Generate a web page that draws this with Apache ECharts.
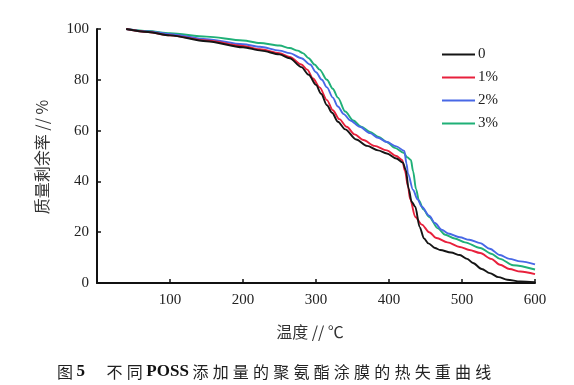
<!DOCTYPE html>
<html><head><meta charset="utf-8">
<script src="https://cdn.jsdelivr.net/npm/echarts@6/dist/echarts.min.js"></script>
<style>html,body{margin:0;padding:0;background:#fff}#c{width:574px;height:385px}</style>
</head><body><div id="c"></div>
<script>
const seriesNames = ['0', '1%', '2%', '3%'];
const xTicks = [0, 100, 200, 300, 400, 500, 600];
const yTicks = [0, 20, 40, 60, 80, 100];
const s0 = [[40,100],[70,98.8],[100,97.5],[150,95.2],[200,92.8],[225,91.5],[250,90],[264,88.5],[280,85],[290,82],[300,78],[307,74.5],[315,70],[322,67],[330,63.5],[340,60.5],[355,56.5],[370,54],[385,52.2],[397,51],[410,49],[419,47.4],[423,44.5],[427,37],[431,32],[436,30],[442,22],[448,17.5],[454,15.6],[463,13.8],[470,13],[485,12],[497,11],[507,9.5],[515,7.9],[527,5.5],[538,3.9],[550,2.3],[562,1.3],[580,0.6],[600,0.3]];
const s1 = [[40,100],[70,98.8],[100,97.5],[150,95.5],[200,93.3],[223,92],[250,90.5],[264,89],[280,86],[288,84],[296,80.5],[305,77],[315,72],[323,68],[332,64.5],[342,61.5],[353,58.5],[365,56.3],[380,54],[397,52.2],[410,50],[418,48.4],[422,44],[426,38],[429,33],[436,26],[445,23],[455,20],[465,17.7],[480,16],[497,14.2],[510,13],[525,11.8],[540,9.5],[552,7.2],[565,5.5],[580,4.5],[600,3.5]];
const s2 = [[40,100],[70,99],[100,98],[150,96],[200,94],[223,93],[250,91.5],[264,90.5],[280,88.5],[292,86],[300,83],[308,80],[315,77],[323,73],[330,69.5],[338,66.5],[347,64],[360,61.5],[374,59],[385,57.2],[397,55.5],[410,53.8],[421,52],[424,47],[426,43],[433,36.6],[439,33],[445,30],[455,26.5],[463,23.6],[472,21],[481,19.5],[497,18],[510,17],[525,15.7],[538,13.5],[552,11],[565,9.5],[580,8.5],[600,7.3]];
const s3 = [[40,100],[70,99.2],[100,98.3],[150,97],[200,95.5],[223,94.5],[250,93.5],[264,92.5],[275,91.5],[282,90.5],[290,88.5],[298,86],[305,84],[315,80],[323,76.5],[330,73],[340,67.5],[351,64],[362,61.5],[374,59.5],[386,57.5],[397,55.5],[408,53.2],[420,51.3],[425,49.5],[430,48.4],[433,44],[437,37],[441,32.5],[447,29],[455,26],[467,21.5],[477,19],[490,17.5],[504,16],[525,13.8],[540,11.5],[552,9.5],[570,7],[600,5.3]];
const colors = ['#151515', '#e8203c', '#4868e6', '#1fb077'];
const allData = [s0, s1, s2, s3];

const chart = echarts.init(document.getElementById('c'));
const serif = '"Liberation Serif", "DejaVu Serif", serif';
const cjk = '"Noto Sans CJK SC", sans-serif';
const sp = (s) => s.split('').join('\u2009\u200A');
chart.setOption({
  animation: false,
  backgroundColor: '#fff',
  grid: { left: 97, right: 39, top: 29, bottom: 102, containLabel: false },
  legend: {
    orient: 'vertical', left: 437, top: 41, itemWidth: 33, itemHeight: 2, itemGap: 6, icon: 'rect',
    textStyle: { fontFamily: serif, fontSize: 15, color: '#222', padding: [0,0,0,-2], lineHeight: 17 },
    data: seriesNames
  },
  xAxis: {
    type: 'value', min: xTicks[0], max: xTicks[xTicks.length-1], interval: 100,
    axisLine: { lineStyle: { color: '#111', width: 2 } },
    axisTick: { inside: true, length: 4, lineStyle: { color: '#111', width: 1.5 } },
    axisLabel: { showMinLabel: false, margin: 10, fontFamily: serif, fontSize: 15, color: '#222' },
    splitLine: { show: false }
  },
  yAxis: {
    type: 'value', min: yTicks[0], max: yTicks[yTicks.length-1], interval: 20,
    axisLine: { show: true, lineStyle: { color: '#111', width: 2 } },
    axisTick: { show: true, inside: true, length: 4, lineStyle: { color: '#111', width: 1.5 } },
    axisLabel: { margin: 8, fontFamily: serif, fontSize: 15, color: '#222' },
    splitLine: { show: false }
  },
  series: allData.map((d, i) => ({
    name: seriesNames[i], type: 'line', data: d, showSymbol: false, symbol: 'none',
    smooth: 0.3, smoothMonotone: 'x',
    lineStyle: { color: colors[i], width: 1.9 }, itemStyle: { color: colors[i] },
    z: i === 0 ? 5 : 4 - i
  })),
  graphic: [
    { type: 'text', x: 310, y: 332, style: { text: '温度 // ℃', font: '16px ' + cjk, fill: '#333', align: 'center', verticalAlign: 'middle' } },
    { type: 'text', x: 42, y: 157, rotation: Math.PI/2, style: { text: '质量剩余率 // %', font: '16px ' + cjk, fill: '#333', align: 'center', verticalAlign: 'middle' } },
    { type: 'text', x: 57, y: 372, style: {
        text: '{n|图 }{b|5}{n|      ' + sp('不同') + ' }{b|POSS}{n| ' + sp('添加量的聚氨酯涂膜的热失重曲线') + '}',
        align: 'left', verticalAlign: 'middle',
        rich: {
          n: { font: '16px ' + cjk, fill: '#222' },
          b: { font: 'bold 17px ' + serif, fill: '#111' }
        } } }
  ]
});
</script></body></html>
